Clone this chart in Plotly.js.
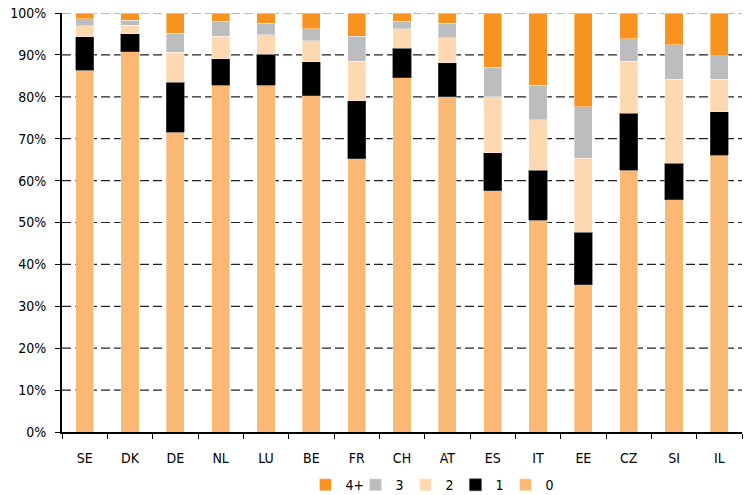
<!DOCTYPE html>
<html><head><meta charset="utf-8">
<script src="https://cdn.plot.ly/plotly-3.0.1.min.js"></script>
<style>html,body{margin:0;padding:0;background:#fff}#chart{width:744px;height:495px}</style>
</head><body><div id="chart"></div>
<script>
const countries = ["SE","DK","DE","NL","LU","BE","FR","CH","AT","ES","IT","EE","CZ","SI","IL"];
const seriesNames = ["0","1","2","3","4+"];
const v0  = [86.3,90.8,71.6,82.8,82.8,80.3,65.2,84.6,80.0,57.6,50.5,35.1,62.5,55.4,66.0];
const v1  = [8.0,4.3,11.9,6.3,7.4,8.1,13.8,7.0,8.1,9.1,12.0,12.6,13.6,8.8,10.4];
const v2  = [2.6,2.0,7.1,5.4,4.6,5.0,9.5,4.7,6.0,13.3,12.0,17.6,12.4,20.0,7.8];
const v3  = [1.7,1.2,4.6,3.5,2.8,2.8,6.0,1.7,3.5,7.1,8.3,12.3,5.3,8.2,5.6];
const v4p = [1.4,1.7,4.8,2.0,2.4,3.8,5.5,2.0,2.4,12.9,17.2,22.4,6.2,7.6,10.2];
const yTickVals = [0,10,20,30,40,50,60,70,80,90,100];
const yTickText = ["0%","10%","20%","30%","40%","50%","60%","70%","80%","90%","100%"];

const colors = ["#FBB874","#000000","#FED8B1","#BCBDBF","#F7931E"];
const values = [v0,v1,v2,v3,v4p];
const traces = values.map((v,i)=>({
  type:"bar", x:countries, y:v, name:seriesNames[i],
  marker:{color:colors[i], line:{color: i===1 ? "#555" : "rgba(255,255,255,0.6)", width:0.6}},
  width:0.4
}));

// dashed horizontal gridlines at the y tick values
const gridShapes = yTickVals.filter(v=>v>0).map(v=>({
  type:"line", xref:"paper", x0:0, x1:1, yref:"y", y0:v, y1:v, layer:"below",
  line:{color: v===100 ? "#777" : "#222", width:1.2, dash:"9px,4px"}
}));

const font = {family:"DejaVu Sans Condensed, Liberation Sans Narrow, sans-serif", size:14, color:"#000"};
const layout = {
  barmode:"stack",
  width:744, height:495,
  margin:{l:62, r:2, t:13, b:63, autoexpand:false},
  paper_bgcolor:"#fff", plot_bgcolor:"#fff",
  font:font,
  showlegend:true,
  shapes:gridShapes,
  legend:{orientation:"h", x:0.358, xanchor:"left", y:-0.127, yanchor:"middle",
          traceorder:"reversed", font:{family:font.family,size:14,color:"#000"},
          itemwidth:30, entrywidth:5, tracegroupgap:0, bgcolor:"rgba(0,0,0,0)"},
  xaxis:{type:"category", showline:true, linecolor:"#000", linewidth:2,
         ticks:"outside", ticklen:5, tickcolor:"#000", tickwidth:1,
         tickson:"boundaries", showgrid:false, ticklabelstandoff:12,
         tickfont:font, fixedrange:true},
  yaxis:{range:[0,100], tickvals:yTickVals, ticktext:yTickText,
         showline:true, linecolor:"#000", linewidth:2,
         ticks:"outside", ticklen:5, tickcolor:"#000",
         showgrid:false, zeroline:false, ticklabelstandoff:6, tickfont:font, fixedrange:true}
};
Plotly.newPlot("chart", traces, layout, {displayModeBar:false, staticPlot:true});
</script></body></html>
